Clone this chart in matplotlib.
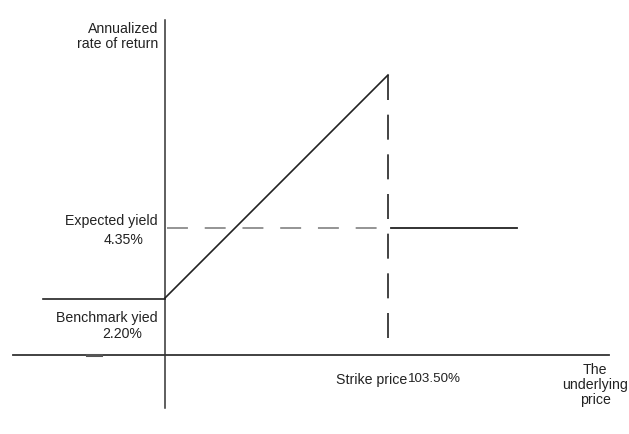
import matplotlib
matplotlib.use("Agg")
import matplotlib.pyplot as plt

# schematic payoff, origin at the axis crossing (arbitrary chart units)
benchmark_x = [-122, 0]
benchmark_y = [56, 56]
ramp_x = [0, 223]
ramp_y = [57, 280]
strike_x = 223
expected_y = 127
flat_x = [226, 352]
flat_y = [127, 127]

strike_label = "Strike price"
strike_value = "103.50%"

plt.rcParams["font.family"] = ["Liberation Sans", "DejaVu Sans"]

fig = plt.figure(figsize=(6.29, 4.34), dpi=100)
ax = fig.add_axes([0, 0, 1, 1])
ax.set_xlim(-165, 464)
ax.set_ylim(-79, 355)
ax.axis("off")

ink = "#222222"
# axes
ax.plot([-152, 444], [0, 0], color="#333333", lw=1.3)
ax.plot([0, 0], [-53, 335], color="#333333", lw=1.1)
ax.plot([-78, -64], [0, 0], color="#555555", lw=2.2)

ax.plot(benchmark_x, benchmark_y, color=ink, lw=1.2)
ax.plot(ramp_x, ramp_y, color=ink, lw=1.2)
ax.plot(flat_x, flat_y, color=ink, lw=1.3)
# dashed strike line drawn top-down so the pattern starts at the peak
ax.plot([strike_x, strike_x], [ramp_y[-1], 15], color=ink, lw=1.2,
        dashes=(15, 8.8))
ax.plot([2, strike_x], [expected_y, expected_y], color="#777777", lw=1.1,
        dashes=(13.7, 11))

fs = 10.2
ax.text(-7, 333, "Annualized\nrate of return", ha="right", va="top",
        fontsize=fs, linespacing=1.12, color=ink)
ax.text(-7, 134, "Expected yield", ha="right", va="center", fontsize=fs, color=ink)
ax.text(-41, 115, "4.35%", ha="center", va="center", fontsize=fs, color=ink)
ax.text(-7, 37, "Benchmark yied", ha="right", va="center", fontsize=fs, color=ink)
ax.text(-43, 21, "2.20%", ha="center", va="center", fontsize=fs, color=ink)
ax.text(171, -25, strike_label, ha="left", va="center", fontsize=fs, color=ink)
ax.text(243, -24, strike_value, ha="left", va="center", fontsize=9.6, color=ink)
ax.text(430, -30, "The\nunderlying\nprice", ha="center", va="center",
        fontsize=fs, linespacing=1.1, color=ink)

fig.savefig("out.png", dpi=100)
